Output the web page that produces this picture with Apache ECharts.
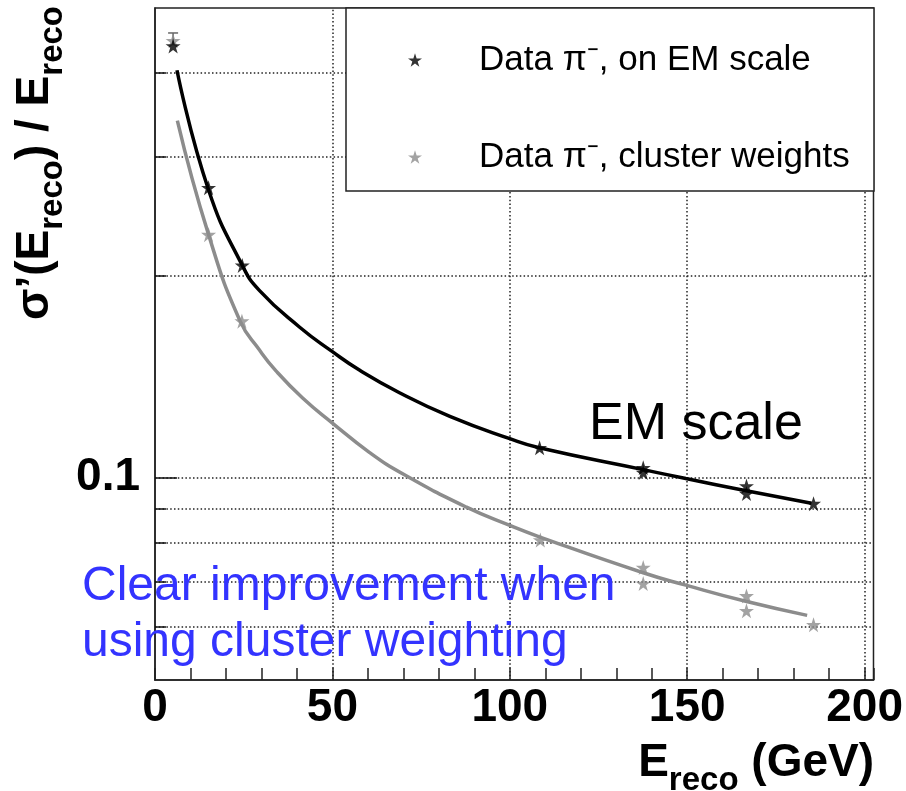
<!DOCTYPE html>
<html>
<head>
<meta charset="utf-8">
<script src="https://cdn.jsdelivr.net/npm/echarts@6/dist/echarts.min.js"></script>
<style>
html,body{margin:0;padding:0;background:#fff;}
#chart{width:906px;height:791px;}
</style>
</head>
<body>
<div id="chart"></div>
<script>
// ---- data ----
const emName = 'Data \u03c0\u207b, on EM scale';
const cwName = 'Data \u03c0\u207b, cluster weights';

// measured points (E_reco in GeV, relative resolution)
const emPointsE   = [5.1, 15.1, 24.6, 108.4, 137.6, 137.6, 166.7, 166.7, 185.6];
const emPointsRes = [0.439, 0.270, 0.207, 0.1108, 0.1035, 0.1018, 0.0972, 0.0947, 0.0915];
const cwPointsE   = [5.1, 15.1, 24.5, 108.6, 137.6, 137.6, 166.7, 166.7, 185.6];
const cwPointsRes = [0.447, 0.230, 0.171, 0.0808, 0.0735, 0.0696, 0.0667, 0.0634, 0.0604];

// fitted curves
const emFitE   = [6.2, 15.1, 24.6, 29.4, 40.7, 50, 57.6, 68.9, 83.1, 100, 108.3, 137.6, 149.6, 165.9, 185.0];
const emFitRes = [0.404, 0.268, 0.207, 0.190, 0.1676, 0.154, 0.1446, 0.1338, 0.1234, 0.1143, 0.1108, 0.1028, 0.0997, 0.0958, 0.0916];
const cwFitE   = [6.3, 15.1, 24.0, 29.4, 34.1, 41.6, 50, 60.5, 70.3, 87.8, 100, 108.5, 137.6, 149.6, 165.9, 183.8];
const cwFitRes = [0.340, 0.230, 0.171, 0.155, 0.1442, 0.1314, 0.1206, 0.1090, 0.1010, 0.0904, 0.0849, 0.0816, 0.0722, 0.0692, 0.0656, 0.0624];

// error bar on the first point
const errE    = [5.1];
const errLow  = [0.440];
const errHigh = [0.459];

// axes
const xMin = 0, xMax = 202.5, xStep = 10, xLabelStep = 50;
const yMin = 0.05, yMax = 0.5;
const yGridValues = [0.06, 0.07, 0.08, 0.09, 0.1, 0.2, 0.3, 0.4];
const yLabelValues = [0.1];
const xGridValues = [50, 100, 150, 200];

// ---- chart ----
const FONT = 'Liberation Sans, Arial, Helvetica, sans-serif';
const starPath = 'path://M50,0 L61.8,36.3 L100,36.3 L69.1,58.8 L80.9,95.1 L50,72.6 L19.1,95.1 L30.9,58.8 L0,36.3 L38.2,36.3 Z';
const zip = (a, b) => a.map((v, i) => [v, b[i]]);

const dotted = {color: '#222', width: 1.5, type: [1.5, 2.3]};
const gridLines = [];
yGridValues.forEach(v => gridLines.push({yAxis: v, lineStyle: dotted}));
xGridValues.forEach(v => gridLines.push({xAxis: v, lineStyle: dotted}));
const tickLines = yGridValues.map(v => {
  const major = yLabelValues.indexOf(v) >= 0;
  const item = [
    {coord: [xMin, v], lineStyle: {color: '#111', width: 1.5, type: 'solid'}},
    {coord: [major ? 6.2 : 3.1, v]}
  ];
  if (major) {
    item[0].label = {
      show: true, position: 'start', formatter: String(v), distance: 15,
      fontSize: 46, fontWeight: 'bold', fontFamily: FONT, color: '#000', padding: [8, 0, 0, 0]
    };
  }
  return item;
});

const chart = echarts.init(document.getElementById('chart'));
chart.setOption({
  animation: false,
  backgroundColor: '#fff',
  grid: {left: 155, right: 32, top: 8, bottom: 111, show: true, borderColor: '#222', borderWidth: 1.5, backgroundColor: 'transparent'},
  xAxis: {
    type: 'value', min: xMin, max: xMax, interval: xStep,
    axisLine: {show: true, lineStyle: {color: '#222', width: 1.5}},
    axisTick: {show: true, inside: true, length: 12, lineStyle: {color: '#222', width: 1.5}},
    splitLine: {show: false},
    axisLabel: {
      show: true, margin: 5, fontSize: 46, fontWeight: 'bold', fontFamily: FONT, color: '#000',
      formatter: v => (v % xLabelStep === 0 ? String(v) : '')
    }
  },
  yAxis: {
    type: 'log', logBase: 10, min: yMin, max: yMax,
    axisLine: {show: true, lineStyle: {color: '#222', width: 1.5}},
    axisTick: {show: false},
    axisLabel: {show: false},
    splitLine: {show: false}
  },
  legend: {
    data: [emName, cwName],
    orient: 'vertical', left: 403, top: 34, z: 11,
    itemWidth: 14, itemHeight: 14, itemGap: 55,
    icon: starPath,
    textStyle: {fontSize: 35, fontFamily: FONT, color: '#000', lineHeight: 42, padding: [0, 0, 0, 52]}
  },
  graphic: [
    {type: 'rect', z: 10, shape: {x: 346, y: 8, width: 528, height: 183},
     style: {fill: '#fff', stroke: '#222', lineWidth: 1.5}},
    {type: 'text', z: 12, x: 589, y: 425,
     style: {text: 'EM scale', fontSize: 52, fontFamily: FONT, fill: '#000', align: 'left', verticalAlign: 'middle'}},
    {type: 'text', z: 12, x: 82, y: 587,
     style: {text: 'Clear improvement when', fontSize: 48, fontFamily: FONT, fill: '#3333ff', align: 'left', verticalAlign: 'middle'}},
    {type: 'text', z: 12, x: 82, y: 643,
     style: {text: 'using cluster weighting', fontSize: 48, fontFamily: FONT, fill: '#3333ff', align: 'left', verticalAlign: 'middle'}},
    {type: 'text', z: 12, x: 874, y: 740,
     style: {
       text: '{b|E}{s|reco}{b| (GeV)}', align: 'right', verticalAlign: 'top',
       rich: {
         b: {fontSize: 46, fontWeight: 'bold', fontFamily: FONT, fill: '#000', color: '#000', lineHeight: 50, verticalAlign: 'top'},
         s: {fontSize: 33, fontWeight: 'bold', fontFamily: FONT, fill: '#000', color: '#000', lineHeight: 33, verticalAlign: 'top', padding: [24, 0, 0, 0]}
       }
     }},
    {type: 'text', z: 12, x: 12, y: 6, rotation: Math.PI / 2,
     style: {
       text: '{b|\u03c3\u2019(E}{s|reco}{b|) / E}{s|reco}', align: 'right', verticalAlign: 'top',
       rich: {
         b: {fontSize: 46, fontWeight: 'bold', fontFamily: FONT, fill: '#000', color: '#000', lineHeight: 50, verticalAlign: 'top'},
         s: {fontSize: 33, fontWeight: 'bold', fontFamily: FONT, fill: '#000', color: '#000', lineHeight: 33, verticalAlign: 'top', padding: [24, 0, 0, 0]}
       }
     }}
  ],
  series: [
    {
      name: 'cwFit', type: 'line', data: zip(cwFitE, cwFitRes), smooth: 0.5,
      symbol: 'none', silent: true, lineStyle: {color: '#8c8c8c', width: 3.5}, z: 6,
      markLine: {
        silent: true, symbol: 'none', animation: false, z: 3,
        label: {show: false},
        data: gridLines.concat(tickLines)
      }
    },
    {
      name: 'emFit', type: 'line', data: zip(emFitE, emFitRes), smooth: 0.5,
      symbol: 'none', silent: true, lineStyle: {color: '#000', width: 3.5}, z: 6
    },
    {
      name: cwName, type: 'scatter', data: zip(cwPointsE, cwPointsRes),
      symbol: starPath, symbolSize: 15, itemStyle: {color: '#8c8c8c'}, z: 7
    },
    {
      name: 'err', type: 'custom', z: 7, silent: true,
      data: errE.map((e, i) => [e, errLow[i], errHigh[i]]),
      renderItem: (params, api) => {
        const lo = api.coord([api.value(0), api.value(1)]);
        const hi = api.coord([api.value(0), api.value(2)]);
        return {type: 'group', children: [
          {type: 'line', shape: {x1: lo[0], y1: lo[1], x2: hi[0], y2: hi[1]}, style: {stroke: '#666', lineWidth: 1.5}},
          {type: 'line', shape: {x1: hi[0] - 5, y1: hi[1], x2: hi[0] + 5, y2: hi[1]}, style: {stroke: '#666', lineWidth: 1.5}}
        ]};
      }
    },
    {
      name: emName, type: 'scatter', data: zip(emPointsE, emPointsRes),
      symbol: starPath, symbolSize: 15, itemStyle: {color: '#000'}, z: 8
    }
  ]
});
</script>
</body>
</html>
